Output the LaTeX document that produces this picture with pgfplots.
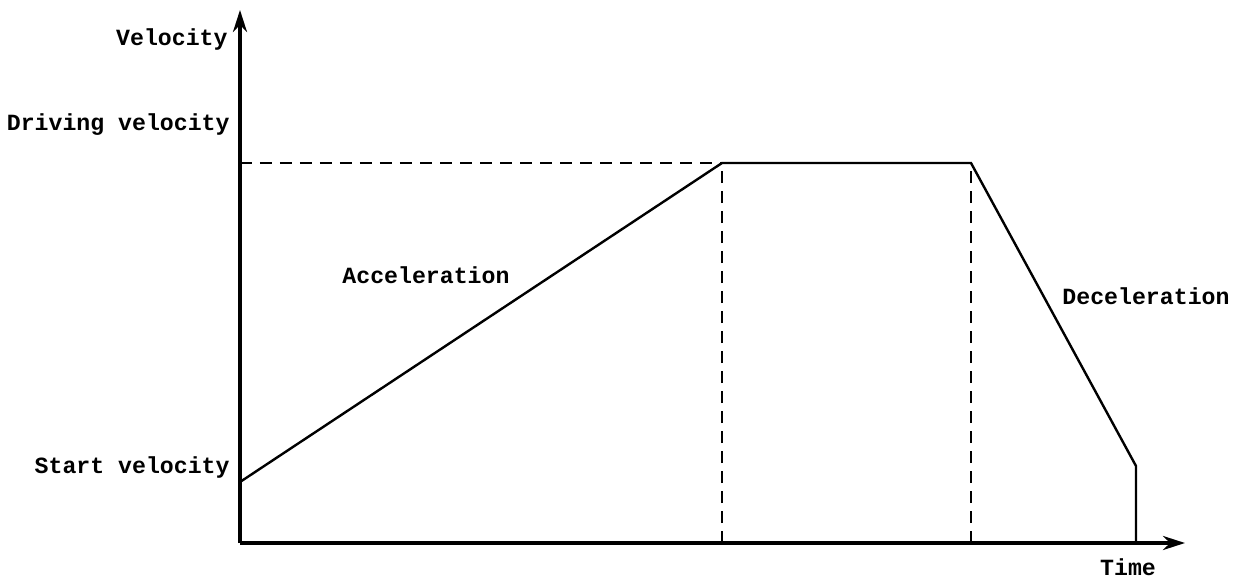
\documentclass[border=0pt]{standalone}
\usepackage{pgfplots}
\pgfplotsset{compat=1.18}
\usepackage{fontspec}
\setmainfont{Liberation Mono}
\usetikzlibrary{arrows.meta}

\tikzset{lbl/.style={font=\fontsize{11.6}{13}\selectfont\bfseries, inner sep=0pt}}

\begin{document}
\begin{tikzpicture}
\begin{axis}[
  x=0.5pt, y=0.5pt,
  xmin=0, xmax=945, ymin=0, ymax=533,
  axis lines=left,
  axis line style={line width=2.4pt, -{Stealth[length=11pt,width=7pt]}},
  xtick=\empty, ytick=\empty,
  clip=false]
% velocity profile
\addplot[black, line width=1.2pt, mark=none] coordinates {
  (0,61) (482,380) (731,380) (896,77) (896,0) };
% guide lines
\addplot[black, line width=0.7pt, dash pattern=on 6pt off 4pt] coordinates { (0,380) (482,380) };
\addplot[black, line width=0.7pt, dash pattern=on 6pt off 4pt] coordinates { (482,0) (482,380) };
\addplot[black, line width=0.7pt, dash pattern=on 6pt off 4pt] coordinates { (731,0) (731,380) };
% texts
\node[lbl, anchor=east] at (axis cs:-12,503) {Velocity};
\node[lbl, anchor=east] at (axis cs:-10,418) {Driving velocity};
\node[lbl, anchor=east] at (axis cs:-10,76) {Start velocity};
\node[lbl] at (axis cs:186,268) {Acceleration};
\node[lbl] at (axis cs:906,247) {Deceleration};
\node[lbl] at (axis cs:888,-24) {Time};
\coordinate (bl) at (axis cs:-240,-36);
\coordinate (tr) at (axis cs:1001,543);
\end{axis}
\pgfresetboundingbox
\path (bl) rectangle (tr);
\end{tikzpicture}
\end{document}
